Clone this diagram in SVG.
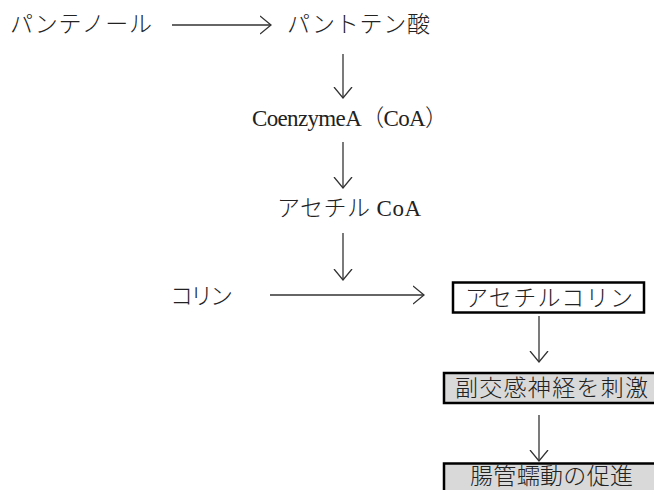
<svg xmlns="http://www.w3.org/2000/svg" width="654" height="490" viewBox="0 0 654 490">
<defs>
<style>
.t{font-family:"Liberation Serif","Noto Sans CJK JP",serif;font-size:23px;font-weight:300;fill:#222}
.c{stroke:#333;stroke-width:1.3;fill:none}
.box{stroke:#000;stroke-width:2.5}
</style>
<marker id="ah" viewBox="0 0 12 20" refX="11" refY="10" markerWidth="12" markerHeight="20" markerUnits="userSpaceOnUse" orient="auto">
<path d="M0,1 L11,10 L0,19" fill="none" stroke="#333" stroke-width="1.3"/>
</marker>
</defs>
<rect width="654" height="490" fill="#fff"/>
<g id="connectors">
<line class="c" x1="172" y1="25" x2="271" y2="25" marker-end="url(#ah)"/>
<line class="c" x1="343" y1="54" x2="343" y2="98" marker-end="url(#ah)"/>
<line class="c" x1="343" y1="142" x2="343" y2="188" marker-end="url(#ah)"/>
<line class="c" x1="343" y1="233" x2="343" y2="280" marker-end="url(#ah)"/>
<line class="c" x1="270" y1="295" x2="424" y2="295" marker-end="url(#ah)"/>
<line class="c" x1="539" y1="316" x2="539" y2="362" marker-end="url(#ah)"/>
<line class="c" x1="539" y1="415" x2="539" y2="461" marker-end="url(#ah)"/>
</g>
<g id="n-panthenol"><text class="t" x="10" y="32" textLength="142">パンテノール</text></g>
<g id="n-pantothenic"><text class="t" x="287" y="32" textLength="143">パントテン酸</text></g>
<g id="n-coenzymeA"><text class="t" x="252" y="126" textLength="196">CoenzymeA（CoA）</text></g>
<g id="n-acetylcoa"><text class="t" x="277" y="216" textLength="144">アセチル CoA</text></g>
<g id="n-choline"><text class="t" x="170" y="304" textLength="63">コリン</text></g>
<g id="n-acetylcholine">
<rect class="box" x="453" y="282.5" width="191" height="30" fill="#fff"/>
<text class="t" x="465" y="306" textLength="168">アセチルコリン</text>
</g>
<g id="n-parasympathetic">
<rect class="box" x="444" y="373" width="212" height="30" fill="#d9d9d9"/>
<text class="t" x="455" y="396" textLength="193">副交感神経を刺激</text>
</g>
<g id="n-peristalsis">
<rect class="box" x="444" y="463.5" width="212" height="30" fill="#d9d9d9"/>
<text class="t" x="470" y="484" font-size="22" textLength="163">腸管蠕動の促進</text>
</g>
</svg>
